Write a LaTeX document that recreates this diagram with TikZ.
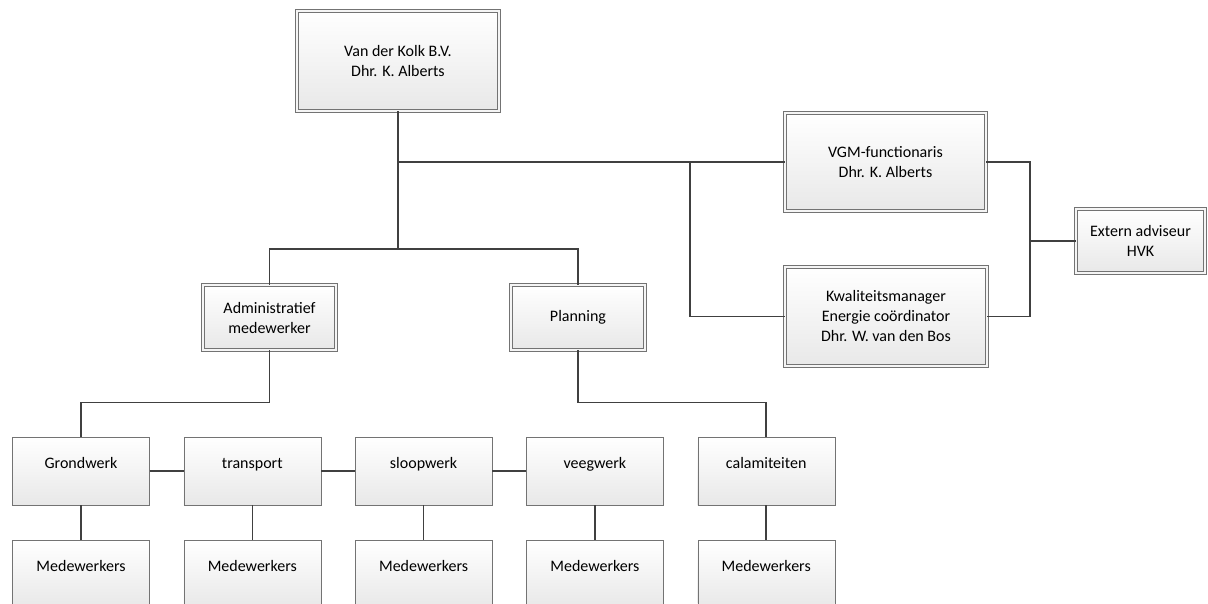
\documentclass[tikz,border=0pt]{standalone}
\usepackage{fontspec}
\setmainfont{Carlito}
\begin{document}
\begin{tikzpicture}[x=1pt,y=-1pt,
  box/.style={draw=gray!90!black,top color=white,bottom color=gray!18,align=center,inner sep=0pt,font=\fontsize{16}{20}\selectfont},
  head/.style={box,double=gray!8,double distance=2.8pt,line width=0.6pt},
  unit/.style={box,minimum width=137,minimum height=68,text height=10pt,text depth=16pt},
  line/.style={draw=black!75,line width=1.5pt}]
\useasboundingbox (0,0) rectangle (1208,604);
\clip (0,0) rectangle (1208,604);

\node[head,minimum width=202,minimum height=100] (kolk) at (398,61) {Van der Kolk B.V.\\Dhr. K. Alberts};
\node[head,minimum width=201,minimum height=98] (vgm) at (885.5,162) {VGM-functionaris\\Dhr. K. Alberts};
\node[head,minimum width=202,minimum height=99] (kwal) at (886,316.5) {Kwaliteitsmanager\\Energie coördinator\\Dhr. W. van den Bos};
\node[head,minimum width=129,minimum height=64] (extern) at (1140.5,241) {Extern adviseur\\HVK};
\node[head,minimum width=133,minimum height=65] (admin) at (269.5,317.5) {Administratief\\medewerker};
\node[head,minimum width=134,minimum height=65] (plan) at (578,317.5) {Planning};

\foreach \n/\t [count=\i from 0] in {grond/Grondwerk,trans/transport,sloop/sloopwerk,veeg/veegwerk,calam/calamiteiten}{
  \node[unit] (\n) at (81+171.3*\i,471) {\t};
  \node[unit] (med-\n) at (81+171.3*\i,574) {Medewerkers};
  \draw[line] (\n) -- (med-\n);
}

\coordinate (hub) at (398,249);
\coordinate (split) at (690,162);
\coordinate (join) at (1030,241);
\draw[line] (kolk) -- (hub);
\draw[line] (admin.north) |- (hub) -| (plan.north);
\draw[line] (kolk.south |- vgm.west) -- (vgm.west);
\draw[line] (split) |- (kwal.west);
\draw[line] (vgm.east) -| (join) |- (kwal.east);
\draw[line] (join) -- (extern.west);
\draw[line] (admin.south) -- ++(0,52) -| (grond.north);
\draw[line] (plan.south) -- ++(0,52) -| (calam.north);
\foreach \a/\b in {grond/trans,trans/sloop,sloop/veeg}
  \draw[line] (\a) -- (\b);
\end{tikzpicture}
\end{document}
